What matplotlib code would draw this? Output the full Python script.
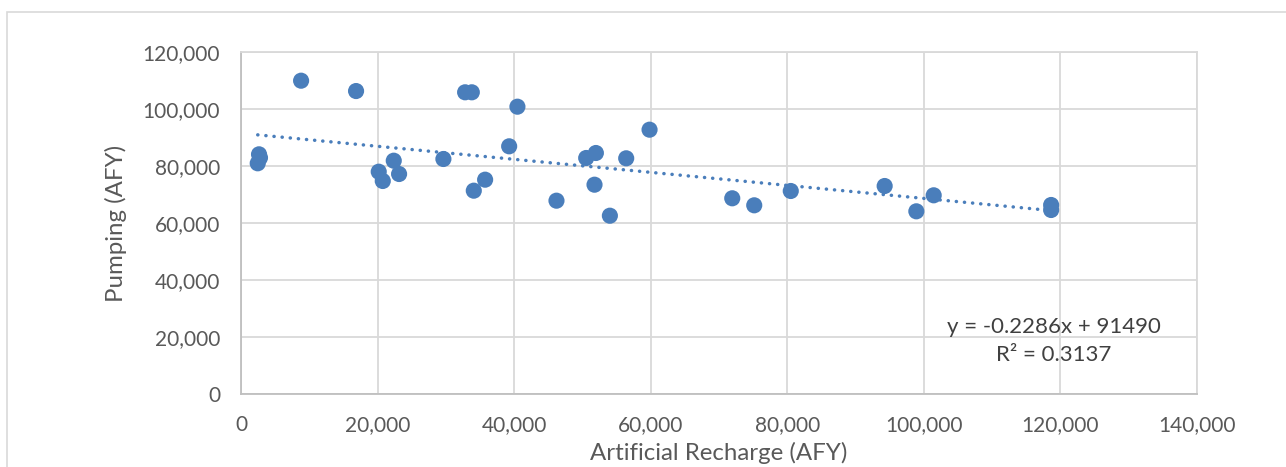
import matplotlib
matplotlib.use("Agg")
import matplotlib.pyplot as plt
from matplotlib.patches import Rectangle
from matplotlib.ticker import FuncFormatter
import numpy as np

# Data (AFY)
recharge = [2450, 2640, 2780, 8800, 16850, 20170, 20760, 22370, 23150,
            29640, 32820, 33800, 34090, 35750, 39270, 40480, 46200,
            50550, 51970, 51770, 54020, 56410, 59830, 71940, 75160,
            80510, 94260, 98900, 101440, 118640, 118640]
pumping = [80950, 84100, 82900, 109930, 106300, 78000, 74740, 81860, 77190,
           82460, 105860, 105860, 71340, 75200, 86910, 100810, 67830,
           82810, 84560, 73440, 62560, 82700, 92740, 68670, 66210,
           71230, 72980, 64100, 69720, 66320, 64560]

# Linear trendline as reported on the chart
slope = -0.2286
intercept = 91490
r_squared = 0.3137

x_ticks = [0, 20000, 40000, 60000, 80000, 100000, 120000, 140000]
y_ticks = [0, 20000, 40000, 60000, 80000, 100000, 120000]

plt.rcParams['font.family'] = ['Lato', 'DejaVu Sans']

W, H = 1286, 467
fig = plt.figure(figsize=(W / 100, H / 100), dpi=100)

# outer chart border (only top/left visible in the crop)
fig.patches.append(Rectangle((7 / W, -0.2), 1.2, 1 - 12 / H + 0.2,
                             transform=fig.transFigure, fill=False,
                             edgecolor='#D9D9D9', linewidth=1.2))

ax = fig.add_axes([241 / W, 1 - 394 / H, (1197 - 241) / W, (394 - 52) / H])

blue = '#4A7EBB'
ax.scatter(recharge, pumping, s=135, color=blue, edgecolors='none', zorder=3)

tx = np.array([min(recharge), max(recharge)])
ax.plot(tx, slope * tx + intercept, color=blue, linewidth=2.5,
        linestyle=(0, (0.05, 2.3)), dash_capstyle='round', zorder=2)

ax.set_xlim(0, 140000)
ax.set_ylim(0, 120000)
ax.set_xticks(x_ticks)
ax.set_yticks(y_ticks)
fmt = FuncFormatter(lambda v, p: f'{int(v):,}')
ax.xaxis.set_major_formatter(fmt)
ax.yaxis.set_major_formatter(fmt)

ax.grid(True, color='#D9D9D9', linewidth=1.3)
ax.set_axisbelow(True)
for s in ax.spines.values():
    s.set_color('#D9D9D9')
    s.set_linewidth(1.3)
ax.spines['left'].set_color('#BFBFBF')
ax.spines['bottom'].set_color('#BFBFBF')

ax.tick_params(length=0, labelsize=15, labelcolor='#595959', pad=15)

ax.set_xlabel('Artificial Recharge (AFY)', fontsize=17.3, color='#595959', labelpad=5)
ax.set_ylabel('Pumping (AFY)', fontsize=17.3, color='#595959', labelpad=11)

ax.text(1054 / W, 1 - 327 / H, f'y = {slope}x + {intercept}', transform=fig.transFigure,
        ha='center', va='center', fontsize=16, color='#404040')
ax.text(1054 / W, 1 - 355 / H, f'R² = {r_squared}', transform=fig.transFigure,
        ha='center', va='center', fontsize=16, color='#404040')

fig.savefig('out.png', dpi=100)
